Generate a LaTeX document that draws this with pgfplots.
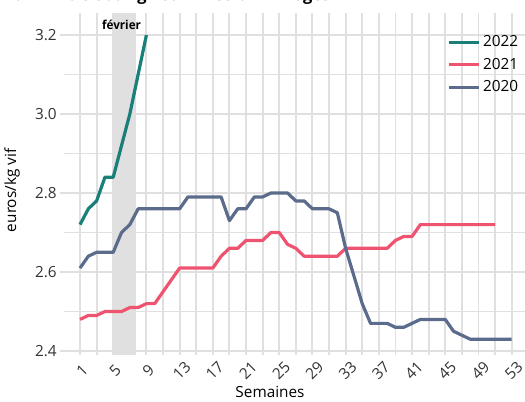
\documentclass[border=0pt]{standalone}
\usepackage{pgfplots}
\pgfplotsset{compat=1.18}
\usepackage{fontspec}
\setmainfont{Open Sans}

\definecolor{c22}{HTML}{1B7F79}
\definecolor{c21}{HTML}{EE5470}
\definecolor{c20}{HTML}{5B6B8C}
\definecolor{gridc}{HTML}{E0E0E0}
\definecolor{band}{HTML}{E0E0E0}
\definecolor{txt}{HTML}{333333}

\begin{document}
\begin{tikzpicture}
% 1px = 0.75pt, picture is 525 x 401 px
\begin{axis}[
    at={(48pt,34.5pt)}, anchor=south west,
    scale only axis,
    width=345.75pt, height=256.5pt,
    xmin=-0.93, xmax=54.61,
    ymin=2.3899, ymax=3.2557,
    axis line style={draw=none},
    xtick={1,5,...,53},
    minor xtick={3,7,...,51},
    ytick={2.4,2.6,2.8,3.0,3.2},
    minor ytick={2.5,2.7,2.9,3.1},
    grid=both,
    major grid style={gridc, line width=1.4pt},
    minor grid style={gridc, line width=1.4pt},
    tick align=outside,
    major tick length=3pt, minor tick length=0pt,
    xtick style={draw=none},
    ytick style={gridc, line width=1.4pt},
    /pgf/number format/assume math mode=true,
    tick label style={font=\fontsize{11.5}{13}\selectfont, text=txt},
    yticklabel style={/pgf/number format/fixed, /pgf/number format/fixed zerofill, /pgf/number format/precision=1, xshift=1pt},
    xticklabel style={anchor=center, yshift=-8.5pt, xshift=1.5pt, rotate=45},
    clip=false,
    legend style={at={(axis description cs:0.822,0.950)}, anchor=north west,
        draw=none, fill=none, font=\fontsize{11.5}{13}\selectfont,
        row sep=3pt, cells={anchor=west}},
    legend image code/.code={\draw[#1, line width=2.4pt] (0pt,0pt) -- (22.5pt,0pt);},
]
% fevrier band
\addplot[draw=none, fill=band, forget plot] coordinates {(5,2.3899) (7.8,2.3899) (7.8,3.2557) (5,3.2557)} -- cycle;
\node[font=\bfseries\fontsize{9.2}{10}\selectfont, xscale=0.95, anchor=base] at (axis cs:6.0,3.215) {février};

\addplot[c22, line width=2.4pt, line join=round] coordinates {
(1,2.72) (2,2.76) (3,2.78) (4,2.84) (5,2.84) (6,2.92) (7,3.00) (8,3.10) (9,3.20)
};
\addplot[c21, line width=2.4pt, line join=round] coordinates {
(1,2.48) (2,2.49) (3,2.49) (4,2.50) (5,2.50) (6,2.50) (7,2.51) (8,2.51) (9,2.52) (10,2.52)
(11,2.55) (12,2.58) (13,2.61) (14,2.61) (15,2.61) (16,2.61) (17,2.61) (18,2.64) (19,2.66) (20,2.66)
(21,2.68) (22,2.68) (23,2.68) (24,2.70) (25,2.70) (26,2.67) (27,2.66) (28,2.64) (29,2.64) (30,2.64)
(31,2.64) (32,2.64) (33,2.66) (34,2.66) (35,2.66) (36,2.66) (37,2.66) (38,2.66) (39,2.68) (40,2.69)
(41,2.69) (42,2.72) (43,2.72) (44,2.72) (45,2.72) (46,2.72) (47,2.72) (48,2.72) (49,2.72) (50,2.72)
(51,2.72)
};
\addplot[c20, line width=2.4pt, line join=round] coordinates {
(1,2.61) (2,2.64) (3,2.65) (4,2.65) (5,2.65) (6,2.70) (7,2.72) (8,2.76) (9,2.76) (10,2.76)
(11,2.76) (12,2.76) (13,2.76) (14,2.79) (15,2.79) (16,2.79) (17,2.79) (18,2.79) (19,2.73) (20,2.76)
(21,2.76) (22,2.79) (23,2.79) (24,2.80) (25,2.80) (26,2.80) (27,2.78) (28,2.78) (29,2.76) (30,2.76)
(31,2.76) (32,2.75) (33,2.66) (34,2.59) (35,2.52) (36,2.47) (37,2.47) (38,2.47) (39,2.46) (40,2.46)
(41,2.47) (42,2.48) (43,2.48) (44,2.48) (45,2.48) (46,2.45) (47,2.44) (48,2.43) (49,2.43) (50,2.43)
(51,2.43) (52,2.43) (53,2.43)
};
\legend{2022,2021,2020}
\end{axis}
% axis titles and clipped chart title
\node[font=\fontsize{11.5}{13}\selectfont, text=black] at (202.5pt,6.5pt) {Semaines};
\node[font=\fontsize{11.5}{13}\selectfont, rotate=90, text=black] at (9pt,158pt) {euros/kg vif};
\node[font=\bfseries\fontsize{12.3}{14}\selectfont, anchor=base east] at (251.25pt,300pt) {6-12 mois 300 kg - commission Limoges};
\pgfresetboundingbox
\useasboundingbox (0pt,0pt) rectangle (393.75pt,300.75pt);
\end{tikzpicture}
\end{document}
